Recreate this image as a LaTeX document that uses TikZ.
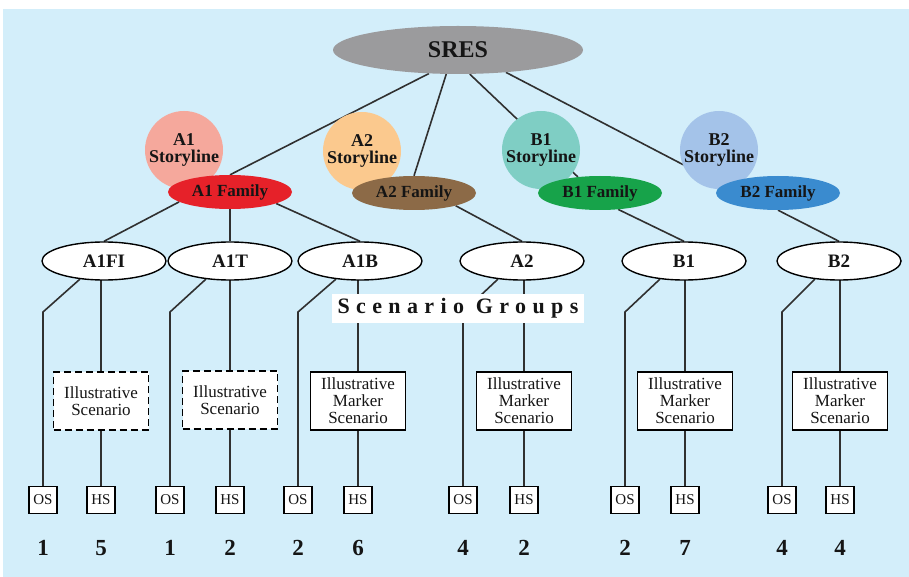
\documentclass[tikz,border=0pt]{standalone}
\usepackage{fontspec}
\setmainfont{Liberation Serif}
\usetikzlibrary{shapes.geometric}
\definecolor{bgblue}{HTML}{D3EEFA}
\definecolor{linegray}{HTML}{303030}
\definecolor{sresgray}{HTML}{9B9B9D}
\definecolor{aonestory}{HTML}{F5A89C}
\definecolor{aonefam}{HTML}{E62129}
\definecolor{atwostory}{HTML}{FBC98E}
\definecolor{atwofam}{HTML}{8C6A47}
\definecolor{bonestory}{HTML}{7FCEC4}
\definecolor{bonefam}{HTML}{17A34A}
\definecolor{btwostory}{HTML}{A4C3E9}
\definecolor{btwofam}{HTML}{3A8BCF}
\definecolor{txt}{HTML}{151515}
\pgfdeclarelayer{back}
\pgfdeclarelayer{lines}
\pgfsetlayers{back,lines,main}
\begin{document}
\begin{tikzpicture}[x=1pt,y=-1pt,
  conn/.style={draw=linegray, line width=1.6pt},
  story/.style={circle, minimum size=78pt, inner sep=0pt, align=center, text=txt,
    font=\fontsize{18}{16.5}\selectfont\bfseries},
  fam/.style={ellipse, minimum width=124pt, minimum height=34pt, inner sep=0pt, text=txt,
    font=\fontsize{17}{17}\selectfont\bfseries},
  grp/.style={ellipse, draw=black, line width=1.4pt, fill=white, minimum width=124pt,
    minimum height=38pt, inner sep=0pt, text=txt, font=\fontsize{19}{19}\selectfont\bfseries},
  ill/.style={rectangle, draw=black, line width=1.5pt, fill=white, minimum width=95pt,
    minimum height=58pt, inner sep=0pt, align=center, text=txt,
    font=\fontsize{17}{17}\selectfont},
  illd/.style={ill, dash pattern=on 7pt off 4pt, line width=1.7pt},
  smallbox/.style={rectangle, draw=black, line width=1.4pt, fill=white, minimum width=28pt,
    minimum height=27pt, inner sep=0pt, text=txt, font=\fontsize{15}{15}\selectfont},
  num/.style={text=txt, font=\fontsize{23}{23}\selectfont\bfseries},
]
\useasboundingbox (0,0) rectangle (909,577);
\begin{pgfonlayer}{back}
  \fill[bgblue] (3,9) rectangle (909,577);
\end{pgfonlayer}

% top
\node[ellipse, fill=sresgray, minimum width=250pt, minimum height=48pt, inner sep=0pt,
  text=txt, font=\fontsize{24}{24}\selectfont\bfseries] (sres) at (458,50) {SRES};

% storylines
\node[story, fill=aonestory] (a1s) at (184,150) {A1\\Storyline};
\node[story, fill=atwostory] (a2s) at (362,151) {A2\\Storyline};
\node[story, fill=bonestory] (b1s) at (541,150) {B1\\Storyline};
\node[story, fill=btwostory] (b2s) at (719,150) {B2\\Storyline};

% families
\node[fam, fill=aonefam] (a1fam) at (230,192) {A1 Family};
\node[fam, fill=atwofam] (a2fam) at (414,193) {A2 Family};
\node[fam, fill=bonefam] (b1fam) at (600,193) {B1 Family};
\node[fam, fill=btwofam] (b2fam) at (778,193) {B2 Family};

% scenario groups
\node[grp] (a1fi) at (104,261) {A1FI};
\node[grp] (a1t)  at (230,261) {A1T};
\node[grp] (a1b)  at (360,261) {A1B};
\node[grp] (a2)   at (522,261) {A2};
\node[grp] (b1)   at (684,261) {B1};
\node[grp] (b2)   at (839,261) {B2};

\node[fill=white, minimum width=252pt, minimum height=29pt, inner sep=0pt, text=txt,
  font=\fontsize{22}{22}\selectfont\bfseries] (sglabel) at (458,308)
  {\addfontfeature{LetterSpace=29}Scenario Groups};

% illustrative boxes
\node[illd] (ill1) at (101,401) {Illustrative\\Scenario};
\node[illd] (ill2) at (230,400) {Illustrative\\Scenario};
\node[ill]  (ill3) at (358,401) {Illustrative\\Marker\\Scenario};
\node[ill]  (ill4) at (524,401) {Illustrative\\Marker\\Scenario};
\node[ill]  (ill5) at (685,401) {Illustrative\\Marker\\Scenario};
\node[ill]  (ill6) at (840,401) {Illustrative\\Marker\\Scenario};

% OS / HS
\node[smallbox] (os1) at (43,500) {OS};
\node[smallbox] (hs1) at (101,500) {HS};
\node[smallbox] (os2) at (170,500) {OS};
\node[smallbox] (hs2) at (230,500) {HS};
\node[smallbox] (os3) at (298,500) {OS};
\node[smallbox] (hs3) at (358,500) {HS};
\node[smallbox] (os4) at (463,500) {OS};
\node[smallbox] (hs4) at (524,500) {HS};
\node[smallbox] (os5) at (625,500) {OS};
\node[smallbox] (hs5) at (685,500) {HS};
\node[smallbox] (os6) at (782,500) {OS};
\node[smallbox] (hs6) at (840,500) {HS};

% numbers
\node[num] (n1)  at (43,548)  {1};
\node[num] (n2)  at (101,548) {5};
\node[num] (n3)  at (170,548) {1};
\node[num] (n4)  at (230,548) {2};
\node[num] (n5)  at (298,548) {2};
\node[num] (n6)  at (358,548) {6};
\node[num] (n7)  at (463,548) {4};
\node[num] (n8)  at (524,548) {2};
\node[num] (n9)  at (625,548) {2};
\node[num] (n10) at (685,548) {7};
\node[num] (n11) at (782,548) {4};
\node[num] (n12) at (840,548) {4};

% kink points
\coordinate (k1) at (43,312);
\coordinate (k2) at (170,312);
\coordinate (k3) at (298,312);
\coordinate (k4) at (463,312);
\coordinate (k5) at (625,312);
\coordinate (k6) at (782,312);

\begin{pgfonlayer}{lines}
  \draw[conn] (sres.219) -- (a1fam.north);
  \draw[conn] (sres.244) -- (a2fam.north);
  \draw[conn] (sres.296) -- (b1fam.144);
  \draw[conn] (sres.335) -- (b2fam.172);
  \draw[conn] (a1fam.191) -- (a1fi.north);
  \draw[conn] (a1fam.south) -- (a1t.north);
  \draw[conn] (a1fam.346) -- (a1b.north);
  \draw[conn] (a2fam.343) -- (a2.north);
  \draw[conn] (b1fam.318) -- (b1.north);
  \draw[conn] (b2fam.south) -- (b2.north);
  % left branches
  \draw[conn] (a1fi.217) -- (k1) -- (os1.north);
  \draw[conn] (a1t.217) -- (k2) -- (os2.north);
  \draw[conn] (a1b.217) -- (k3) -- (os3.north);
  \draw[conn] (a2.217) -- (k4) -- (os4.north);
  \draw[conn] (b1.217) -- (k5) -- (os5.north);
  \draw[conn] (b2.217) -- (k6) -- (os6.north);
  % right branches
  \draw[conn] (a1fi.center -| ill1.north) -- (ill1.north);
  \draw[conn] (a1t.center -| ill2.north) -- (ill2.north);
  \draw[conn] (a1b.center -| ill3.north) -- (ill3.north);
  \draw[conn] (a2.center -| ill4.north) -- (ill4.north);
  \draw[conn] (b1.center -| ill5.north) -- (ill5.north);
  \draw[conn] (b2.center -| ill6.north) -- (ill6.north);
  \draw[conn] (ill1.south) -- (hs1.north);
  \draw[conn] (ill2.south) -- (hs2.north);
  \draw[conn] (ill3.south) -- (hs3.north);
  \draw[conn] (ill4.south) -- (hs4.north);
  \draw[conn] (ill5.south) -- (hs5.north);
  \draw[conn] (ill6.south) -- (hs6.north);
\end{pgfonlayer}
\end{tikzpicture}
\end{document}
